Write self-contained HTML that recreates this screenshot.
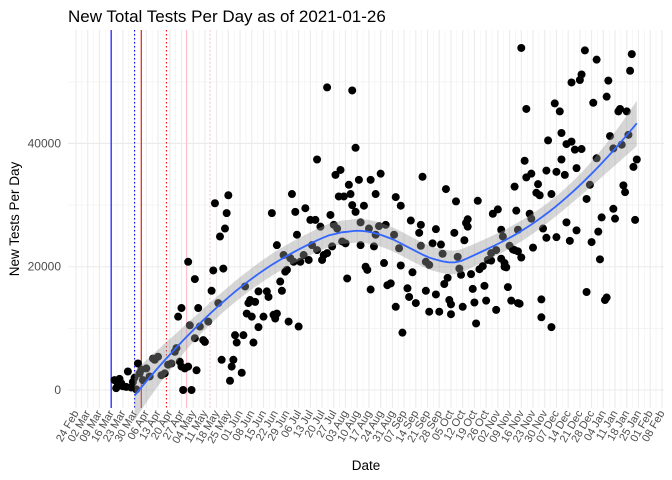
<!DOCTYPE html>
<html>
<head>
<meta charset="utf-8">
<style>
  html,body{margin:0;padding:0;background:#fff;}
  svg{display:block;font-family:"Liberation Sans",sans-serif;}
</style>
</head>
<body>
<svg id="chart" width="672" height="480" viewBox="0 0 672 480" xmlns="http://www.w3.org/2000/svg">
  <g id="grid"></g>
  <g id="vlines"></g>
  <g id="points"></g>
  <g id="smooth"></g>
  <g id="yticks"></g>
  <g id="xticks"></g>
  <text x="68" y="22" font-size="17" fill="#000">New Total Tests Per Day as of 2021-01-26</text>
  <text transform="translate(19,219) rotate(-90)" text-anchor="middle" font-size="13.5" fill="#000">New Tests Per Day</text>
  <text x="366" y="470" text-anchor="middle" font-size="13.5" fill="#000">Date</text>
</svg>
<script>
// day offsets are days since 2020-02-24
const days = [23,24,27,30,31,34,36,37,38,40,42,44,46,47,49,51,53,55,57,59,60,62,63,65,67,61,63,68,71,73,71,67,72,64,69,74,76,77,79,81,85,83,91,90,89,86,82,88,87,92,94,93,95,96,100,102,99,101,103,25,28,33,26,35,39,
104,107,105,106,109,112,109,114,115,118,120,119,123,122,125,126,127,133,117,129,131,137,120,132,124,128,130,134,136,139,141,140,143,146,144,147,148,150,152,154,156,153,144,150,165,167,155,158,163,169,164,157,160,165,167,172,170,176,179,182,175,179,181,185,159,161,170,178,162,173,174,176,184,186,
190,193,191,194,200,206,205,207,194,201,188,191,195,198,199,203,206,209,211,209,211,213,215,215,217,218,219,221,220,222,223,224,224,226,227,228,229,230,231,232,233,234,234,236,237,238,239,240,241,243,244,245,246,248,248,251,249,252,251,254,255,256,257,258,260,259,261,262,263,264,264,254,256,262,264,
266,269,268,269,272,276,275,277,271,272,266,273,265,278,278,284,279,281,282,281,284,286,289,287,290,290,287,292,293,295,293,296,298,299,302,299,296,301,302,304,305,307,305,308,309,311,311,312,314,313,317,318,316,317,319,321,322,321,324,325,329,326,330,327,328,331,332,333,335,334];
const tests = [1600,300,1100,500,3000,1300,100,4300,2700,1600,3500,2200,5100,4900,5400,2400,2700,4100,4300,6200,6800,4600,3800,3500,3800,11900,13300,10500,8400,13300,18000,20800,3200,0,0,10300,8100,7800,11100,16100,14100,30300,31600,28700,26200,24900,19400,19700,4900,1500,4900,3800,8900,7700,8900,12400,2800,16800,14100,800,600,400,1800,2000,3300,
14600,14300,11900,7700,10200,11900,16000,16000,15100,12200,12400,11600,16100,17600,19200,19500,11100,10300,28700,31800,28900,29500,23500,25200,21900,21400,20800,20800,21900,21100,23500,27600,27600,26500,22700,21100,21900,22200,28400,26800,26200,23300,37400,49100,48600,39300,34900,35700,33300,34100,31800,31400,31400,30000,28900,29900,27200,34100,31800,35100,26200,25200,26600,26800,24100,23800,23500,23300,18100,20000,19500,16300,20600,17000,
25200,23000,31300,29900,27500,26800,25500,34600,20200,19100,17300,13500,9300,16500,15100,14100,23400,20800,20300,16100,12700,23800,26100,15500,12700,23600,22100,32600,17200,18200,14600,13900,12300,25500,30600,21600,19700,18700,13500,24300,27100,27700,26500,18800,16400,14200,10800,30700,19600,20100,16900,14500,21100,21000,22200,22700,28600,29300,13000,26000,24900,20600,19900,16700,14500,23400,22800,33000,29100,14100,26000,21300,20000,22700,22500,
55500,45600,37200,34500,35100,33400,32000,31600,28600,27800,21500,23100,14000,14700,11800,10200,26200,24700,40500,35600,31800,46500,45200,24800,41700,37400,35400,34900,27200,24200,39900,40300,39000,36000,39100,25900,49900,50300,51200,55100,31000,33300,15900,24000,46600,53600,37600,25700,28000,21200,47600,50200,14600,15000,41200,29400,27800,39200,45200,45600,45200,39800,41400,33200,32100,51800,54500,36200,37400,27600];
const yTickValues = [0,20000,40000];
const yTickLabels = ["0","20000","40000"];
const yMinorValues = [10000,30000,50000];
const xTickLabels = ["24 Feb","02 Mar","09 Mar","16 Mar","23 Mar","30 Mar","06 Apr","13 Apr","20 Apr","27 Apr","04 May","11 May","18 May","25 May","01 Jun","08 Jun","15 Jun","22 Jun","29 Jun","06 Jul","13 Jul","20 Jul","27 Jul","03 Aug","10 Aug","17 Aug","24 Aug","31 Aug","07 Sep","14 Sep","21 Sep","28 Sep","05 Oct","12 Oct","19 Oct","26 Oct","02 Nov","09 Nov","16 Nov","23 Nov","30 Nov","07 Dec","14 Dec","21 Dec","28 Dec","04 Jan","11 Jan","18 Jan","25 Jan","01 Feb","08 Feb"];
const eventDays = [21,35,39,54,66,80];
const eventNames = ["event-line-1","event-line-2","event-line-3","event-line-4","event-line-5","event-line-6"];

const NS = "http://www.w3.org/2000/svg";
const X0 = 76, PXD = 1.674, Y0 = 390, PXV = 0.006163;
const PL = 68, PR = 664, PT = 30, PB = 408;
function xs(d){ return X0 + d*PXD; }
function ys(v){ return Y0 - v*PXV; }
function mk(tag, attrs, parent){
  const e = document.createElementNS(NS, tag);
  for (const k in attrs) e.setAttribute(k, attrs[k]);
  parent.appendChild(e);
  return e;
}
const grid = document.getElementById('grid');
for (let i = 0; i < xTickLabels.length; i++) {
  const x = xs(i*7);
  const l = mk('line', {x1:x, x2:x, y1:PT, y2:PB, stroke:'#ebebeb', 'stroke-width':1.1}, grid);
  
  
  if (i < xTickLabels.length - 1) {
    const xm = xs(i*7 + 3.5);
    const m = mk('line', {x1:xm, x2:xm, y1:PT, y2:PB, stroke:'#f2f2f2', 'stroke-width':0.6}, grid);
    
    
  }
}
yMinorValues.forEach(v => {
  const l = mk('line', {x1:PL, x2:PR, y1:ys(v), y2:ys(v), stroke:'#f0f0f0', 'stroke-width':0.7}, grid);
  
  
});
yTickValues.forEach(v => {
  const l = mk('line', {x1:PL, x2:PR, y1:ys(v), y2:ys(v), stroke:'#ebebeb', 'stroke-width':1.1}, grid);
  
  
});
const vl = document.getElementById('vlines');
const evStyles = [
  {stroke:'#0000ff', dash:null},
  {stroke:'#0000ff', dash:'1.5,2.5'},
  {stroke:'#ff0000', dash:null},
  {stroke:'#ff0000', dash:'1.5,2.5'},
  {stroke:'#ffc0cb', dash:null},
  {stroke:'#ffc0cb', dash:'1.5,2.5'}
];
eventDays.forEach((d, i) => {
  const x = xs(d);
  const a = {x1:x, x2:x, y1:PT, y2:PB, stroke:evStyles[i].stroke, 'stroke-width':1.1};
  if (evStyles[i].dash) a['stroke-dasharray'] = evStyles[i].dash;
  const l = mk('line', a, vl);
  
  
});
const pg = document.getElementById('points');
for (let i = 0; i < days.length; i++) {
  const c = mk('circle', {cx:xs(days[i]), cy:ys(tests[i]), r:4, fill:'#000'}, pg);
  
  
}
// loess (degree 2, span 0.75) fitted on data from the second event onward
const fitIdx = [];
for (let i = 0; i < days.length; i++) if (days[i] >= eventDays[1]) fitIdx.push(i);
function loessAt(x0){
  const n = fitIdx.length, q = Math.floor(0.75*n);
  const dist = fitIdx.map(i => Math.abs(days[i] - x0));
  const h = dist.slice().sort((a,b)=>a-b)[q-1] || 1;
  const w = dist.map(d => { const u = Math.min(d/h, 1); return Math.pow(1 - u*u*u, 3); });
  const S = [[0,0,0],[0,0,0],[0,0,0]];
  for (let j = 0; j < n; j++) {
    const dx = days[fitIdx[j]]-x0, r = [1, dx, dx*dx];
    for (let a = 0; a < 3; a++) for (let b = 0; b < 3; b++) S[a][b] += w[j]*r[a]*r[b];
  }
  const inv = inv3(S);
  let fit = 0, ss = 0;
  for (let j = 0; j < n; j++) {
    const dx = days[fitIdx[j]]-x0;
    const li = w[j]*(inv[0][0] + inv[0][1]*dx + inv[0][2]*dx*dx);
    fit += li*tests[fitIdx[j]]; ss += li*li;
  }
  return {fit, ss};
}
function inv3(m){
  const [a,b,c] = m[0], [d,e,f] = m[1], [g,h,k] = m[2];
  const A = e*k-f*h, B = -(d*k-f*g), C = d*h-e*g;
  const det = a*A + b*B + c*C;
  return [[A/det, -(b*k-c*h)/det, (b*f-c*e)/det],
          [B/det, (a*k-c*g)/det, -(a*f-c*d)/det],
          [C/det, -(a*h-b*g)/det, (a*e-b*d)/det]];
}
let rss = 0;
fitIdx.forEach(i => { const r = loessAt(days[i]); rss += Math.pow(tests[i]-r.fit, 2); });
const sigma = Math.sqrt(rss / (fitIdx.length - 5));
const fitDays = fitIdx.map(i => days[i]);
const dmin = Math.min(...fitDays), dmax = Math.max(...fitDays);
const upper = [], lower = [], mid = [];
for (let k = 0; k <= 80; k++) {
  const d = dmin + (dmax - dmin)*k/80;
  const r = loessAt(d);
  const se = 1.97*sigma*Math.sqrt(r.ss);
  mid.push([xs(d), ys(r.fit)]);
  upper.push([xs(d), ys(r.fit + se)]);
  lower.push([xs(d), ys(r.fit - se)]);
}
const sg = document.getElementById('smooth');
const bandPts = upper.concat(lower.slice().reverse()).map(p => p[0].toFixed(1)+','+p[1].toFixed(1)).join(' ');
const band = mk('polygon', {points:bandPts, fill:'#999999', 'fill-opacity':0.4}, sg);


const line = mk('polyline', {points:mid.map(p => p[0].toFixed(1)+','+p[1].toFixed(1)).join(' '), fill:'none', stroke:'#3366ff', 'stroke-width':1.8}, sg);


const yt = document.getElementById('yticks');
yTickValues.forEach((v, i) => {
  const t = mk('text', {x:61, y:ys(v)+4, 'text-anchor':'end', 'font-size':12, fill:'#4d4d4d'}, yt);
  t.textContent = yTickLabels[i];
  
  
});
const xt = document.getElementById('xticks');
xTickLabels.forEach((lab, i) => {
  const x = xs(i*7);
  const t = mk('text', {transform:'translate('+(x+3).toFixed(1)+',413) rotate(-60)', 'text-anchor':'end', 'font-size':11, fill:'#4d4d4d'}, xt);
  t.textContent = lab;
  
  
});
</script>
</body>
</html>
